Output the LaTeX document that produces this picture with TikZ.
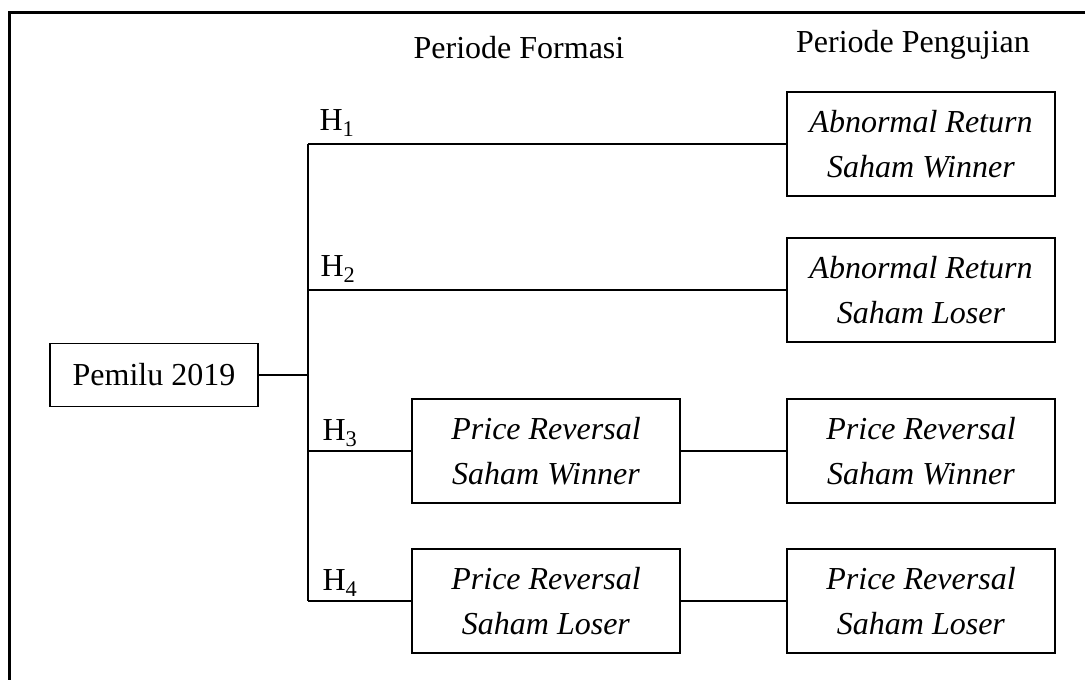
\documentclass[tikz,border=0pt]{standalone}
\usepackage{fontspec}
\setmainfont{Liberation Serif}
\begin{document}
\begin{tikzpicture}[x=1pt,y=-1pt,
		font=\fontsize{32}{45}\selectfont,
		box/.style={draw,line width=1.4pt,align=center,inner sep=0,
			minimum width=268,minimum height=104},
		line/.style={line width=1.2pt},
		hyp/.style={inner sep=0}]
		\useasboundingbox (0,0) rectangle (1085,680);
		% outer frame
		\draw[line width=3pt] (9,690) -- (9,12) -- (1095,12);
		% headers
		\node (hf) at (519,48) {Periode Formasi};
		\node (hp) at (913,45) {Periode Pengujian};
		% left box
		\node[box,minimum width=208,minimum height=63] (pem) at (154,375) {Pemilu 2019};
		% testing period
		\node[box] (aw) at (921,144) {\textit{Abnormal Return}\\\textit{Saham Winner}};
		\node[box] (al) at (921,290) {\textit{Abnormal Return}\\\textit{Saham Loser}};
		\node[box] (pw2) at (921,451) {\textit{Price Reversal}\\\textit{Saham Winner}};
		\node[box] (pl2) at (921,601) {\textit{Price Reversal}\\\textit{Saham Loser}};
		% formation period
		\node[box] (pw1) at (546,451) {\textit{Price Reversal}\\\textit{Saham Winner}};
		\node[box] (pl1) at (546,601) {\textit{Price Reversal}\\\textit{Saham Loser}};
		% trunk
		\coordinate (t1) at (308,144);
		\coordinate (t2) at (308,290);
		\coordinate (tm) at (308,375);
		\coordinate (t3) at (308,451);
		\coordinate (t4) at (308,601);
		\draw[line] (t1) -- (t4);
		\draw[line] (pem.east) -- (tm);
		\draw[line] (t1) -- (aw.west);
		\draw[line] (t2) -- (al.west);
		\draw[line] (t3) -- (pw1.west);
		\draw[line] (t4) -- (pl1.west);
		\draw[line] (pw1.east) -- (pw2.west);
		\draw[line] (pl1.east) -- (pl2.west);
		% labels
		\node[hyp] (h1) at (337,123) {H\textsubscript{1}};
		\node[hyp] (h2) at (338,269) {H\textsubscript{2}};
		\node[hyp] (h3) at (340,433) {H\textsubscript{3}};
		\node[hyp] (h4) at (340,583) {H\textsubscript{4}};
\end{tikzpicture}
\end{document}
